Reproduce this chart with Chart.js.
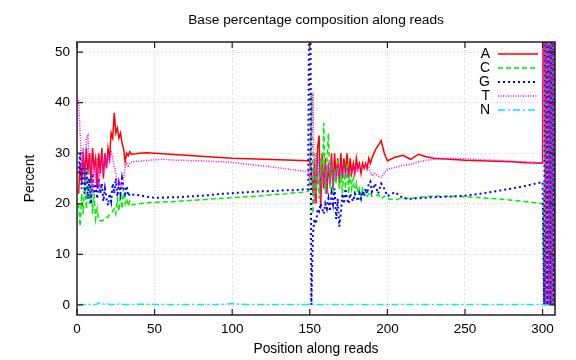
<!DOCTYPE html>
<html><head><meta charset="utf-8">
<script src="https://cdn.jsdelivr.net/npm/chart.js@4"></script>
<style>html,body{margin:0;padding:0;background:#fff}#wrap{width:576px;height:360px}</style>
</head><body><div id="wrap"><canvas id="c" width="576" height="360"></canvas></div>
<script>
const chartTitle = 'Base percentage composition along reads';
const xTitle = 'Position along reads';
const yTitle = 'Percent';
const xTicks = [0, 50, 100, 150, 200, 250, 300];
const yTicks = [0, 10, 20, 30, 40, 50];
const seriesNames = ['A', 'C', 'G', 'T', 'N'];

const positions = [
  1,2,3,4,5,6,7,8,9,10,11,12,13,14,15,16,17,18,19,20,21,22,23,24,25,26,27,28,29,30,31,32,33,34,35,
  38,40,45,50,55,60,65,70,75,80,85,90,95,100,105,110,115,120,125,130,135,140,145,148,
  149,150,151,152,153,154,155,156,157,158,159,160,161,162,163,164,165,166,167,168,169,170,
  171,172,173,174,175,176,177,178,179,180,181,182,183,184,185,186,187,188,189,190,
  192,194,196,198,200,205,210,215,220,225,230,240,250,260,270,280,290,300,
  301,302,303,304,305,306,307,308
];

const seriesA = [
  22,28,24,30,25,31,26,30,24,31,27,29,23,30,26,31,25,30,27,31,29,34,33,38,34,35,33,34,32,31,28.3,30,29.5,30.3,29.8,
  29.9,30.0,30.1,30.0,29.9,29.8,29.7,29.6,29.5,29.4,29.3,29.2,29.1,29.0,28.95,28.9,28.85,28.8,28.75,28.7,28.65,28.6,28.55,28.5,
  28.5,28.3,27,22,28,20,31,33.5,19,30,23,29,22,28,24,30,23,30,25,29,24,30,
  25,29,26,30,25,29,26,28,26,29,27,28,26,28,27,28,27,29,28,29,
  30.5,31.5,32.5,30,28.5,29.2,29.6,28.8,29.8,29.3,29.0,28.8,28.6,28.5,28.4,28.3,28.1,28.0,
  100,0,100,0,100,0,100,0
];
const seriesC = [
  20,15.5,22,18,25,19,27,20,24,18,22,17,19,16.8,16.6,16.7,16.8,17,17.2,17.4,17.8,18,18.5,19,18,21,18.5,22,19,23,20,21,19.5,20.5,19.8,
  19.9,20.0,20.2,20.3,20.35,20.4,20.5,20.6,20.7,20.8,20.9,21.0,21.1,21.2,21.3,21.4,21.5,21.6,21.8,21.9,22.0,22.2,22.3,22.4,
  22.5,23,42,18,30,22,27,21,29,24,36,22,28,34,23,28,22,27,24,29,23,26,
  22,27,23,28,22,26,23,25,22,24,22,23,21.5,23,22,22.5,21.5,22,22.4,21.5,
  21.5,21.8,21,21.5,21,20.8,21.1,21.0,21.3,21.4,21.5,21.5,21.4,21.2,21.0,20.7,20.4,20.0,
  0,100,0,100,0,100,0,100
];
const seriesG = [
  26,30,23,28,22,27,21,25,20,26,22,24,21,25,22,24,20.5,23,21,19.7,22,20.5,24,22,25,21.5,24,22,25,23,22,23.5,21.5,22,21.8,
  21.8,21.7,21.4,21.2,21.2,21.3,21.3,21.4,21.5,21.6,21.7,21.9,22.0,22.1,22.2,22.3,22.4,22.5,22.5,22.6,22.7,22.7,22.8,22.8,
  22.9,100,0,14,17,16,19,18.5,20,19,18,20,19,21,18.5,22,20,23,17,21,15.5,18,
  22,20,23,21,20,22,21,20.5,22,21.5,20.5,22,21,22.5,21.5,23,22,24,24.4,22.4,
  24,22,24,23,21.5,22.3,21.1,21.0,21.1,21.2,21.3,21.4,21.6,22.0,22.5,23.0,23.6,24.3,
  0,100,0,100,0,100,0,100
];
const seriesT = [
  40.5,34,27,31,24,33,33.5,26,30,22,28,24,29,23,27,30,26,29.5,27,30,28,30.5,29,27.5,26,24,23.5,24,23,25,27,28,27.5,28,28.2,
  28.4,28.4,28.6,28.7,28.8,28.7,28.6,28.6,28.5,28.5,28.4,28.35,28.3,28.2,28.0,27.8,27.6,27.5,27.3,27.1,26.9,26.7,26.5,26.4,
  26.3,25,34,42,20,30,24,29,21,27,24,28,22,27,25,29,23,27,24.5,28,25,27,
  25.5,27.5,26,27,25,27,26,27.5,26,27,26.5,27.5,27,27.5,27,27.5,27,27.2,26.5,25.5,
  26,25.5,25.2,26,26.8,27.2,27.6,27.8,28.3,28.6,28.8,29.0,28.9,28.7,28.6,28.4,28.3,28.1,
  100,0,100,0,100,0,100,0
];
const seriesN = [
  0.1,0.1,0.1,0.1,0.1,0.1,0.1,0.1,0.1,0.1,0.1,0.1,0.2,0.3,0.5,0.4,0.2,0.1,0.1,0.2,0.1,0.1,0.1,0.1,0.1,0.1,0.2,0.3,0.2,0.1,0.1,0.1,0.1,0.1,0.1,
  0.1,0.15,0.15,0.1,0.1,0.1,0.1,0.1,0.1,0.1,0.1,0.1,0.15,0.25,0.15,0.1,0.1,0.1,0.1,0.1,0.1,0.1,0.1,0.1,
  0.1,0.2,0.3,0.1,0.1,0.1,0.1,0.1,0.1,0.1,0.1,0.1,0.1,0.1,0.1,0.1,0.1,0.1,0.1,0.1,0.1,0.1,
  0.1,0.1,0.1,0.1,0.1,0.1,0.1,0.1,0.1,0.1,0.1,0.1,0.1,0.1,0.1,0.1,0.1,0.1,0.15,0.1,
  0.1,0.1,0.1,0.1,0.1,0.1,0.1,0.1,0.1,0.1,0.1,0.1,0.1,0.1,0.1,0.1,0.1,0.1,
  0,0,0,0,0,0,0,0
];

const seriesValues = [seriesA, seriesC, seriesG, seriesT, seriesN];
const seriesStyles = [
  {color: '#ff0000', dash: [], width: 1.5},
  {color: '#00ee00', dash: [5, 3], width: 1.5},
  {color: '#0000ff', dash: [2, 3], width: 2},
  {color: '#ff00ff', dash: [1, 1.5], width: 1.5},
  {color: '#00eeee', dash: [7, 3, 2, 3], width: 1.5}
];

const FONT = "'Liberation Sans', Arial, sans-serif";

const datasets = seriesNames.map((name, i) => ({
  label: name,
  data: positions.map((x, j) => ({x: x, y: seriesValues[i][j]})),
  borderColor: seriesStyles[i].color,
  borderDash: seriesStyles[i].dash,
  borderWidth: seriesStyles[i].width,
  pointRadius: 0,
  tension: 0,
  fill: false,
  order: seriesNames.length - i
}));

const gnuplotPlugin = {
  id: 'gnuplotLook',
  beforeDraw(chart) {
    const c = chart.ctx;
    c.save();
    c.fillStyle = '#fff';
    c.fillRect(0, 0, chart.width, chart.height);
    c.restore();
  },
  afterDraw(chart) {
    const c = chart.ctx;
    const a = chart.chartArea;
    const xs = chart.scales.x, ys = chart.scales.y;
    c.save();
    c.strokeStyle = '#222';
    c.lineWidth = 1.5;
    c.setLineDash([]);
    c.strokeRect(a.left, a.top, a.right - a.left, a.bottom - a.top);
    c.lineWidth = 1.2;
    const tl = 6;
    xTicks.forEach(v => {
      const px = xs.getPixelForValue(v);
      c.beginPath();
      c.moveTo(px, a.bottom); c.lineTo(px, a.bottom - tl);
      c.moveTo(px, a.top); c.lineTo(px, a.top + tl);
      c.stroke();
    });
    yTicks.forEach(v => {
      const py = ys.getPixelForValue(v);
      c.beginPath();
      c.moveTo(a.left, py); c.lineTo(a.left + tl, py);
      c.moveTo(a.right, py); c.lineTo(a.right - tl, py);
      c.stroke();
    });
    c.fillStyle = '#000';
    c.font = '13.7px ' + FONT;
    c.textAlign = 'center';
    c.textBaseline = 'middle';
    c.fillText(chartTitle, (a.left + a.right) / 2, 20);
    c.font = '14px ' + FONT;
    c.textAlign = 'right';
    chart.data.datasets.forEach((ds, i) => {
      const y = a.top + 12 + i * 14;
      c.fillStyle = '#000';
      c.fillText(ds.label, a.right - 65, y);
      c.strokeStyle = ds.borderColor;
      c.lineWidth = ds.borderWidth;
      c.setLineDash(ds.borderDash);
      c.beginPath();
      c.moveTo(a.right - 57, y);
      c.lineTo(a.right - 17, y);
      c.stroke();
    });
    c.restore();
  }
};

new Chart(document.getElementById('c'), {
  type: 'line',
  data: {datasets: datasets},
  options: {
    responsive: false,
    animation: false,
    layout: {padding: {left: 0, right: 21, top: 42, bottom: 0}},
    plugins: {legend: {display: false}, title: {display: false}, tooltip: {enabled: false}},
    scales: {
      x: {
        type: 'linear', min: 0, max: 308,
        afterBuildTicks: s => { s.ticks = xTicks.map(v => ({value: v})); },
        afterFit: s => { s.height = 45; },
        grid: {color: '#cccccc', drawTicks: false, lineWidth: 1},
        border: {display: false, dash: [1, 3]},
        ticks: {padding: 6, color: '#000', font: {family: FONT, size: 13.5}, maxRotation: 0, autoSkip: false},
        title: {display: true, text: xTitle, color: '#000', font: {family: FONT, size: 13.8}, padding: {top: 0, bottom: 3}}
      },
      y: {
        type: 'linear', min: -2, max: 52,
        afterBuildTicks: s => { s.ticks = yTicks.map(v => ({value: v})); },
        afterFit: s => { s.width = 77; },
        grid: {color: '#cccccc', drawTicks: false, lineWidth: 1},
        border: {display: false, dash: [1, 3]},
        ticks: {padding: 7, color: '#000', font: {family: FONT, size: 13.5}, autoSkip: false},
        title: {display: true, text: yTitle, color: '#000', font: {family: FONT, size: 13.8}, padding: {top: 22, bottom: 0}}
      }
    }
  },
  plugins: [gnuplotPlugin]
});
</script>
</body></html>
